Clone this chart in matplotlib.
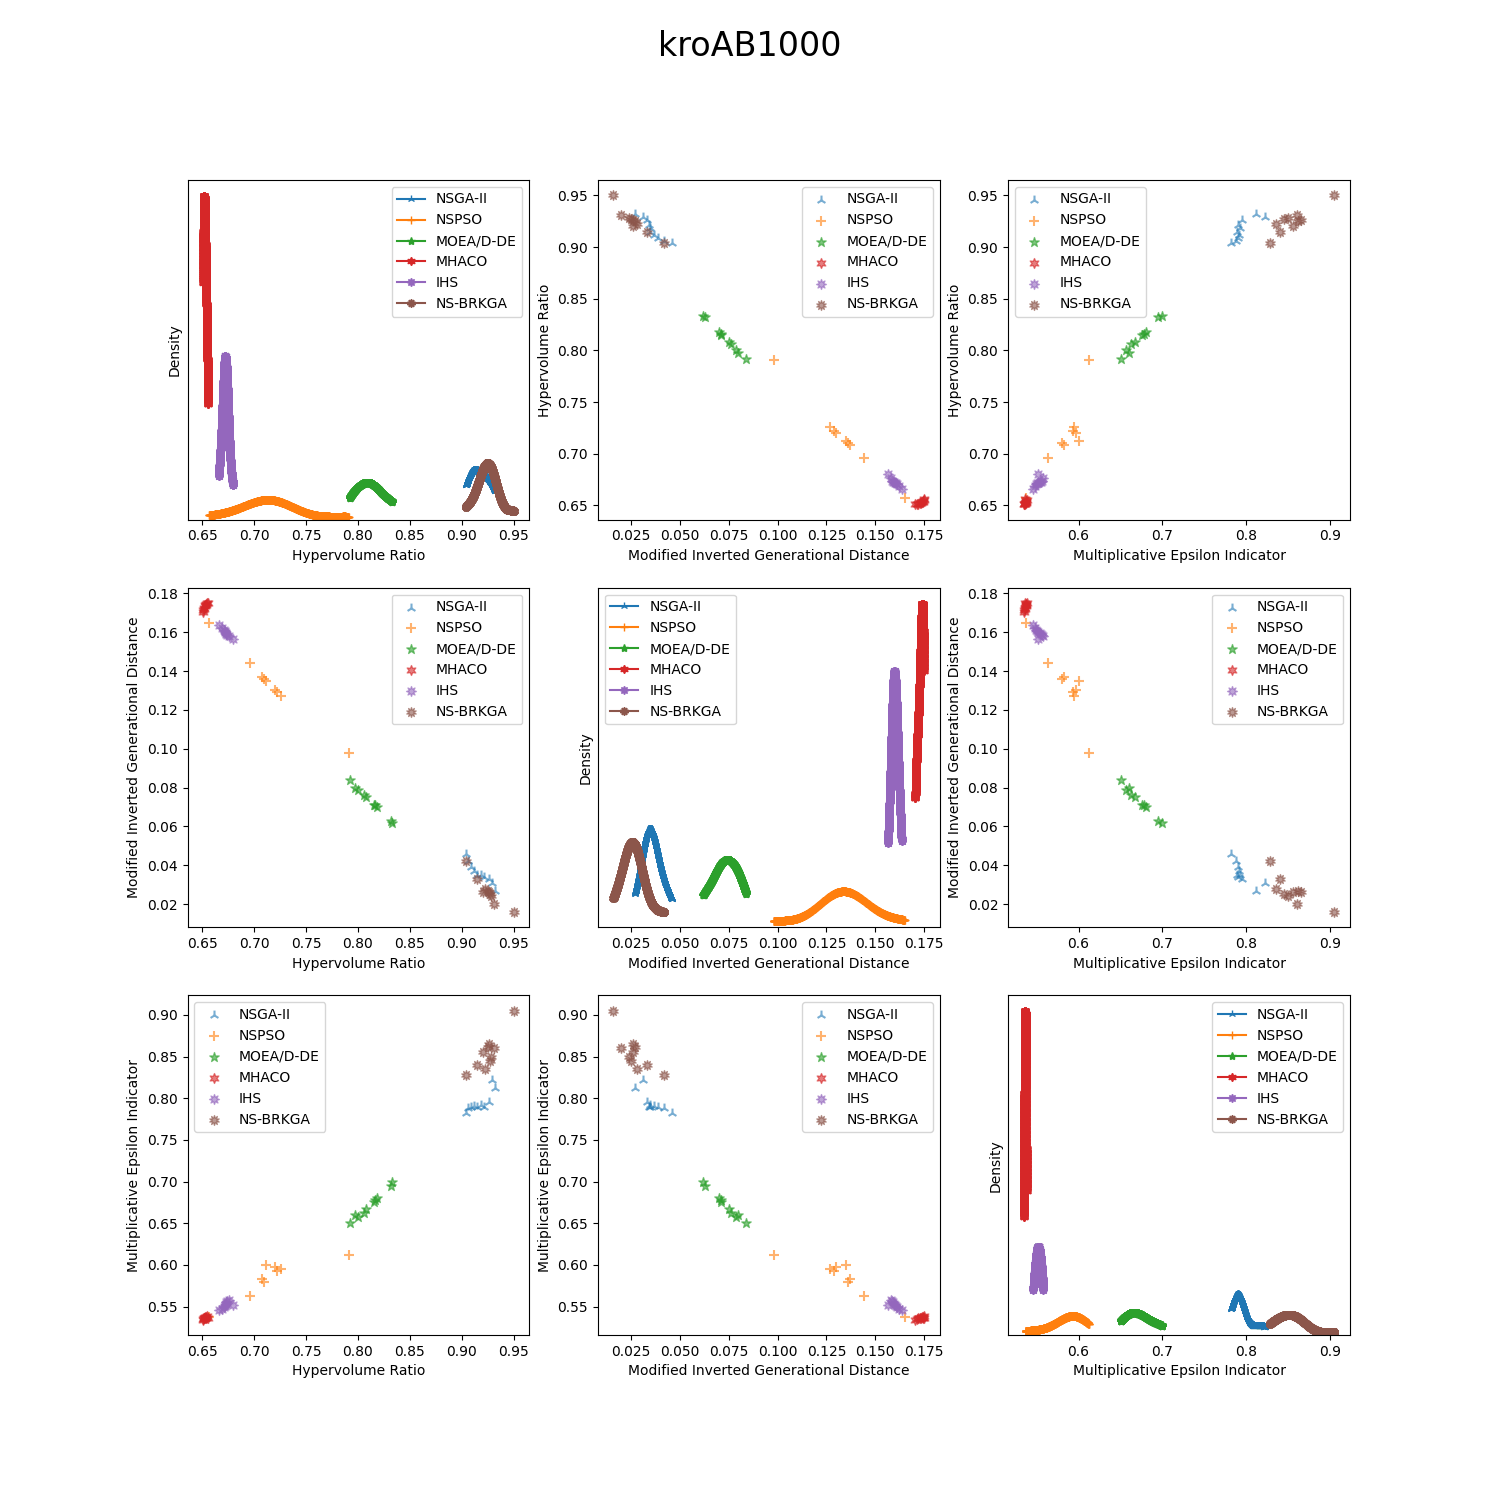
import numpy as np
import matplotlib.pyplot as plt

algos = ['NSGA-II', 'NSPSO', 'MOEA/D-DE', 'MHACO', 'IHS', 'NS-BRKGA']
markers = ['2', '+', '*', (6, 1, 0), (8, 1, 0), (10, 1, 0)]
metrics = ['Hypervolume Ratio', 'Modified Inverted Generational Distance',
           'Multiplicative Epsilon Indicator']

# valeurs (une valeur par run)
hv_nsga2 = [0.904, 0.906, 0.909, 0.912, 0.915, 0.918, 0.921, 0.926, 0.929, 0.932]
migd_nsga2 = [0.046, 0.042, 0.039, 0.037, 0.035, 0.035, 0.034, 0.033, 0.031, 0.027]
mei_nsga2 = [0.782, 0.788, 0.790, 0.791, 0.789, 0.792, 0.790, 0.795, 0.822, 0.812]

hv_nspso = [0.791, 0.726, 0.722, 0.712, 0.708, 0.710, 0.696, 0.657, 0.720]
migd_nspso = [0.098, 0.127, 0.129, 0.135, 0.137, 0.136, 0.144, 0.165, 0.130]
mei_nspso = [0.612, 0.595, 0.593, 0.600, 0.583, 0.580, 0.563, 0.537, 0.597]

hv_moead = [0.833, 0.832, 0.818, 0.816, 0.815, 0.808, 0.806, 0.800, 0.797, 0.792]
migd_moead = [0.062, 0.063, 0.070, 0.071, 0.071, 0.075, 0.076, 0.079, 0.080, 0.084]
mei_moead = [0.700, 0.695, 0.680, 0.678, 0.675, 0.667, 0.662, 0.657, 0.660, 0.650]

hv_mhaco = [0.651, 0.6513, 0.6517, 0.652, 0.6525, 0.653, 0.6535, 0.6542, 0.655, 0.656]
migd_mhaco = [0.1705, 0.1712, 0.172, 0.1727, 0.1733, 0.1738, 0.1742, 0.1745, 0.1748, 0.175]
mei_mhaco = [0.5345, 0.5352, 0.5358, 0.5363, 0.5368, 0.5372, 0.5368, 0.5376, 0.5382, 0.536]

hv_ihs = [0.666, 0.669, 0.671, 0.672, 0.672, 0.673, 0.673, 0.674, 0.676, 0.680]
migd_ihs = [0.1635, 0.1622, 0.1612, 0.1605, 0.160, 0.1598, 0.1593, 0.1588, 0.158, 0.1565]
mei_ihs = [0.546, 0.5475, 0.549, 0.5505, 0.552, 0.5535, 0.555, 0.5565, 0.558, 0.552]

hv_nsbrkga = [0.950, 0.931, 0.928, 0.926, 0.925, 0.922, 0.920, 0.915, 0.904, 0.927]
migd_nsbrkga = [0.016, 0.020, 0.024, 0.026, 0.027, 0.028, 0.026, 0.033, 0.042, 0.025]
mei_nsbrkga = [0.905, 0.860, 0.850, 0.865, 0.862, 0.835, 0.855, 0.840, 0.828, 0.845]

data = {
    'NSGA-II': [hv_nsga2, migd_nsga2, mei_nsga2],
    'NSPSO': [hv_nspso, migd_nspso, mei_nspso],
    'MOEA/D-DE': [hv_moead, migd_moead, mei_moead],
    'MHACO': [hv_mhaco, migd_mhaco, mei_mhaco],
    'IHS': [hv_ihs, migd_ihs, mei_ihs],
    'NS-BRKGA': [hv_nsbrkga, migd_nsbrkga, mei_nsbrkga],
}


def kde(vals, n=1000):
    # noyau gaussien, regle de Scott
    v = np.asarray(vals, dtype=float)
    bw = v.std(ddof=1) * len(v) ** (-1 / 5)
    xs = np.linspace(v.min(), v.max(), n)
    ys = np.exp(-0.5 * ((xs[:, None] - v[None, :]) / bw) ** 2).sum(1)
    ys = ys / (len(v) * bw * np.sqrt(2 * np.pi))
    return xs, ys


locs = [['upper right', 'upper right', 'upper left'],
        ['upper right', 'upper left', 'upper right'],
        ['upper left', 'upper right', 'upper right']]

fig, axes = plt.subplots(3, 3, figsize=(15, 15))
for i in range(3):
    for j in range(3):
        ax = axes[i, j]
        for k, a in enumerate(algos):
            if i == j:
                xs, ys = kde(data[a][i])
                ax.plot(xs, ys, marker=markers[k], label=a)
            else:
                ax.scatter(data[a][j], data[a][i], marker=markers[k], s=50, alpha=0.6, label=a)
        if i == j:
            ax.set_ylim(bottom=0)
            ax.set_yticks([])
            ax.set_ylabel('Density')
        else:
            ax.set_ylabel(metrics[i])
        ax.set_xlabel(metrics[j])
        ax.legend(loc=locs[i][j])

fig.suptitle('kroAB1000', fontsize=24)
plt.savefig('out.png', dpi=100)
